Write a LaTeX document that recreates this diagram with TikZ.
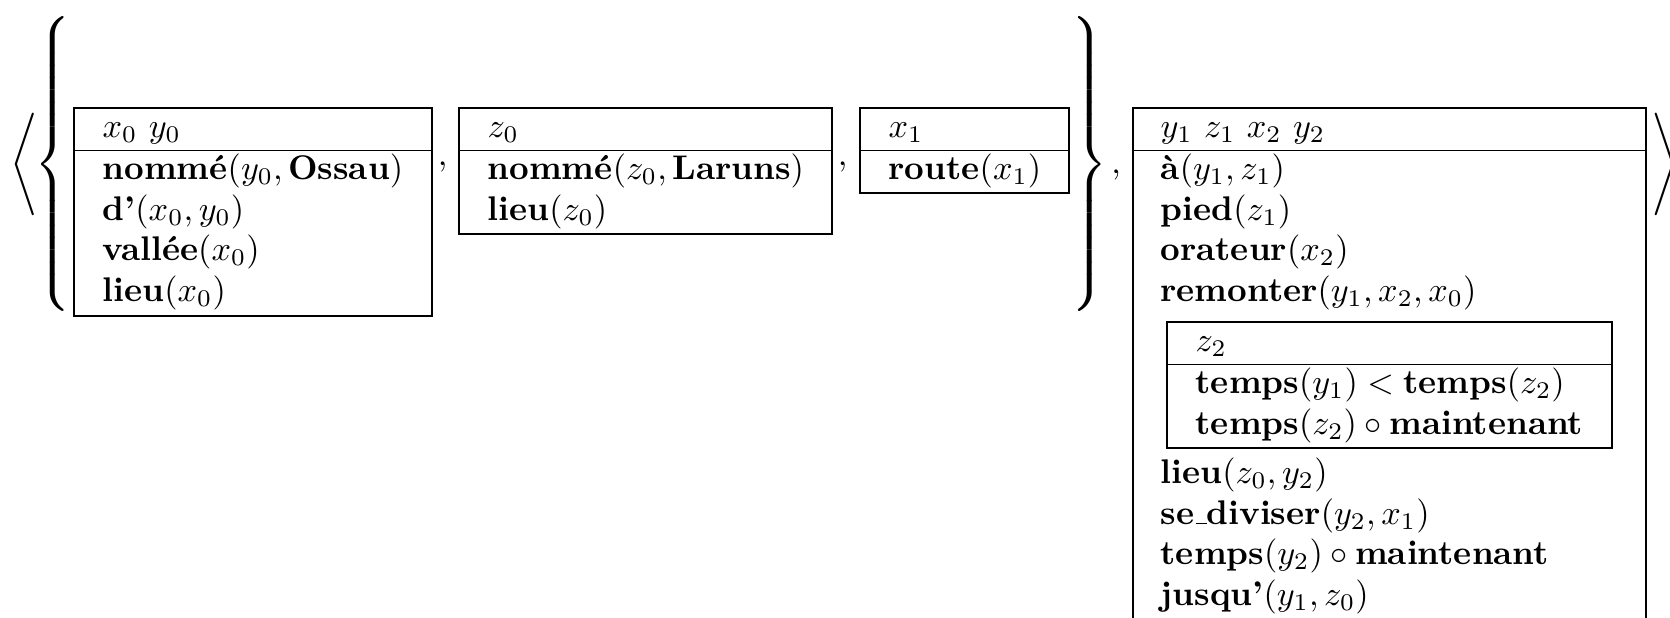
\documentclass[tikz,border=0pt]{standalone}
\usepackage{graphicx}

\begin{document}
\begin{tikzpicture}[
    x=0.2924pt, y=-0.2924pt, % une unité = un pixel, y vers le bas
    boite/.style={draw, line width=0.4pt},
    texte/.style={anchor=base west, inner sep=0pt},
    virgule/.style={anchor=base, inner sep=0pt},
    delim/.style={inner sep=0pt}
]
\useasboundingbox (0,0) rectangle (1670,617);
\clip (0,0) rectangle (1670,617);

% Crochets et accolades
\node[delim] (chevg) at (24,164) {$\Biggl\langle$};
\node[delim] (accg) at (52.5,164)
    {\resizebox*{!}{90pt}{$\left\{\vcenter{\hrule height 75pt width 0pt}\right.\kern-\nulldelimiterspace$}};
\node[delim] (accd) at (1090,164)
    {\resizebox*{!}{90pt}{$\left.\kern-\nulldelimiterspace\vcenter{\hrule height 75pt width 0pt}\right\}$}};
\node[delim] (chevd) at (1665,164) {$\Biggr\rangle$};

% Boîte 1
\draw[boite] (74,108) rectangle (432,316);
\draw[boite] (74,150.5) -- (432,150.5);
\node[texte] (u1) at (102,137) {$x_0\ y_0$};
\node[texte] (c11) at (102,179.5) {$\textbf{nommé}(y_0,\textbf{Ossau})$};
\node[texte] (c12) at (102,220) {$\textbf{d'}(x_0,y_0)$};
\node[texte] (c13) at (102,260.5) {$\textbf{vallée}(x_0)$};
\node[texte] (c14) at (102,301) {$\textbf{lieu}(x_0)$};
\node[virgule] (v1) at (442.5,165.5) {,};

% Boîte 2
\draw[boite] (459,108) rectangle (832,234);
\draw[boite] (459,150.5) -- (832,150.5);
\node[texte] (u2) at (487,137) {$z_0$};
\node[texte] (c21) at (487,179.5) {$\textbf{nommé}(z_0,\textbf{Laruns})$};
\node[texte] (c22) at (487,220) {$\textbf{lieu}(z_0)$};
\node[virgule] (v2) at (842.5,165.5) {,};

% Boîte 3
\draw[boite] (860,108) rectangle (1069,193);
\draw[boite] (860,150.5) -- (1069,150.5);
\node[texte] (u3) at (888,137) {$x_1$};
\node[texte] (c31) at (888,179.5) {$\textbf{route}(x_1)$};

\node[virgule] (v3) at (1116,173) {,};

% Boîte 4 (ouverte vers le bas)
\draw[boite] (1133,700) -- (1133,108) -- (1646,108) -- (1646,700);
\draw[boite] (1133,150.5) -- (1646,150.5);
\node[texte] (u4) at (1160,137) {$y_1\ z_1\ x_2\ y_2$};
\node[texte] (c41) at (1160,179.5) {$\textbf{à}(y_1,z_1)$};
\node[texte] (c42) at (1160,220) {$\textbf{pied}(z_1)$};
\node[texte] (c43) at (1160,260.5) {$\textbf{orateur}(x_2)$};
\node[texte] (c44) at (1160,301) {$\textbf{remonter}(y_1,x_2,x_0)$};
% Sous-boîte
\draw[boite] (1167,322) rectangle (1612,448);
\draw[boite] (1167,364.5) -- (1612,364.5);
\node[texte] (u5) at (1195,351) {$z_2$};
\node[texte] (c51) at (1195,393.5) {$\textbf{temps}(y_1)<\textbf{temps}(z_2)$};
\node[texte] (c52) at (1195,434) {$\textbf{temps}(z_2)\circ\textbf{maintenant}$};
% Suite de la boîte 4
\node[texte] (c45) at (1160,483.5) {$\textbf{lieu}(z_0,y_2)$};
\node[texte] (c46) at (1160,524) {$\textbf{se\kern.06em\vbox{\hrule width.3em}diviser}(y_2,x_1)$};
\node[texte] (c47) at (1160,564.5) {$\textbf{temps}(y_2)\circ\textbf{maintenant}$};
\node[texte] (c48) at (1160,605) {$\textbf{jusqu'}(y_1,z_0)$};
\end{tikzpicture}
\end{document}
